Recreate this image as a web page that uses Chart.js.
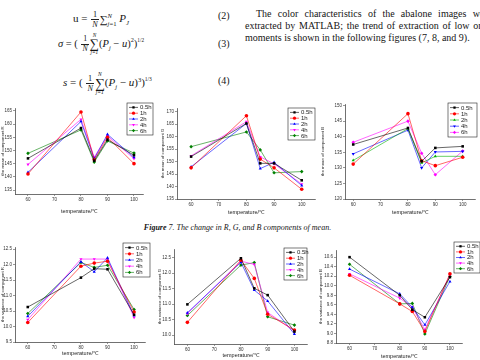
<!DOCTYPE html>
<html>
<head>
<meta charset="utf-8">
<script src="https://cdn.jsdelivr.net/npm/chart.js@4.4.0/dist/chart.umd.min.js"></script>
<style>
html, body { margin: 0; padding: 0; background: #fff; }
body { width: 480px; height: 360px; overflow: hidden; position: relative; font-family: "Liberation Serif", "DejaVu Serif", serif; color: #151515; }
canvas { position: absolute; }
.t { position: absolute; white-space: nowrap; font-size: 10px; }
.eq { position: absolute; white-space: nowrap; font-size: 10px; line-height: 1; }
.frac { display: inline-block; vertical-align: middle; text-align: center; font-size: 0.75em; line-height: 1.1; margin: 0 1px; }
.frac > span { display: block; padding: 0 1px; }
.frac > span:first-child { border-bottom: 0.7px solid #222; }
.big { display: inline-block; vertical-align: middle; text-align: center; line-height: 0.95; }
.big > span { display: block; }
.big .lim { font-size: 0.5em; font-style: italic; }
.big .op { font-size: 1.25em; }
.ss { display: inline-block; vertical-align: middle; line-height: 1.1; font-size: 0.6em; }
.ss > span { display: block; }
sub, sup { font-size: 0.6em; }
</style>
</head>
<body>

<!-- equations -->
<div class="eq" style="left:73px;top:10px;font-size:11px">
  u = <span class="frac"><span>1</span><span><i>N</i></span></span><span style="vertical-align:middle">∑</span><span class="ss"><span><i>N</i></span><span><i>j</i>=1</span></span> <i>P<sub>J</sub></i>
</div>
<div class="t" style="left:218px;top:10px">(2)</div>

<div class="eq" style="left:58px;top:33px;font-size:10.5px">
  <i>σ</i> = ( <span class="frac"><span>1</span><span><i>N</i></span></span><span class="big"><span class="lim">N</span><span class="op">∑</span><span class="lim">j=1</span></span>(<i>P<sub>j</sub></i> − <i>u</i>)<sup>2</sup>)<sup style="font-size:0.5em;vertical-align:0.9em">1/2</sup>
</div>
<div class="t" style="left:218px;top:38px">(3)</div>

<div class="eq" style="left:63px;top:72px;font-size:11px">
  <i>s</i> = ( <span class="frac"><span>1</span><span><i>N</i></span></span><span class="big"><span class="lim">N</span><span class="op">∑</span><span class="lim">j=1</span></span>(<i>P<sub>j</sub></i> − <i>u</i>)<sup>3</sup>)<sup style="font-size:0.5em;vertical-align:1em">1/3</sup>
</div>
<div class="t" style="left:218px;top:75px">(4)</div>

<!-- paragraph -->
<div class="t" style="left:256px;top:8px;word-spacing:3.7px">The color characteristics of the abalone images were</div>
<div class="t" style="left:245px;top:20px;word-spacing:1.2px">extracted by MATLAB; the trend of extraction of low order</div>
<div class="t" style="left:245px;top:32px">moments is shown in the following figures (7, 8, and 9).</div>

<!-- caption -->
<div class="t" style="left:0;width:475px;top:223px;text-align:center;font-size:8px;font-style:italic"><b>Figure</b> 7. The change in R, G, and B components of mean.</div>

<script>
// ---- data ----
const temperatures = [60, 80, 85, 90, 100];
const seriesLabels = ['0.5h', '1h', '2h', '4h', '6h'];
const xTickValues = [60, 70, 80, 90, 100];

// mean of R, G, B (rows: 0.5h, 1h, 2h, 4h, 6h)
const meanR = [
    [147.0, 158.5, 146.1, 154.1, 148.2],
    [141.1, 164.6, 146.5, 155.0, 145.0],
    [141.7, 161.0, 146.9, 156.1, 147.4],
    [144.7, 161.8, 147.5, 155.5, 146.9],
    [148.9, 157.8, 145.6, 153.6, 149.0]
];
const meanG = [
    [152.0, 165.3, 149.3, 149.3, 142.5],
    [147.5, 168.4, 151.0, 147.5, 138.9],
    [147.9, 165.3, 147.2, 149.7, 140.4],
    [152.3, 166.0, 151.9, 149.1, 141.0],
    [156.0, 161.9, 154.7, 145.5, 146.0]
];
const meanB = [
    [137.5, 142.8, 132.1, 136.4, 136.9],
    [131.2, 147.4, 132.3, 130.7, 133.4],
    [132.4, 142.6, 131.6, 133.7, 133.7],
    [134.5, 142.1, 130.0, 135.1, 135.3],
    [138.2, 145.0, 134.7, 127.8, 135.4]
];

// variance of R, G, B
const varR = [
    [10.63, 11.58, 11.87, 11.85, 10.38],
    [10.13, 11.95, 12.05, 12.11, 10.47],
    [10.33, 12.09, 11.77, 12.22, 10.35],
    [10.22, 12.18, 12.18, 12.18, 10.29],
    [10.42, 12.07, 11.91, 11.98, 10.55]
];
const varG = [
    [10.99, 12.48, 11.51, 11.29, 10.11],
    [10.41, 12.42, 11.83, 10.67, 10.16],
    [10.72, 12.35, 11.45, 11.10, 10.03],
    [10.69, 12.39, 12.28, 10.73, 10.13],
    [10.63, 12.26, 12.34, 10.59, 10.32]
];
const varB = [
    [10.60, 9.80, 9.50, 9.34, 10.18],
    [10.22, 9.62, 9.46, 9.04, 10.25],
    [10.35, 9.83, 9.55, 9.18, 10.09],
    [10.25, 9.74, 9.55, 9.08, 10.23],
    [10.45, 9.62, 9.63, 8.99, 10.20]
];

// tick labels
const meanRTicks = [135, 140, 145, 150, 155, 160, 165];
const meanGTicks = [135, 140, 145, 150, 155, 160, 165, 170];
const meanBTicks = [120, 125, 130, 135, 140, 145, 150];
const varRTicks = [9.5, 10.0, 10.5, 11.0, 11.5, 12.0, 12.5];
const varGTicks = [10.0, 10.5, 11.0, 11.5, 12.0, 12.5];
const varBTicks = [8.8, 9.0, 9.2, 9.4, 9.6, 9.8, 10.0, 10.2, 10.4, 10.6];

// marker styles (Origin default order)
const colorsA = ['#000000', '#ff0000', '#0000ff', '#ff00ff', '#008000'];
const colorsB = ['#000000', '#ff0000', '#00b000', '#0000ff', '#ff00ff'];
const pointStyles = ['rect', 'circle', 'triangle', 'triangle', 'rectRot'];
const pointRotations = [0, 0, 0, 180, 0];

const FONT = '"Liberation Sans", Arial, sans-serif';
Chart.defaults.font.family = FONT;

// legend drawn as a boxed Origin-style key
const boxLegend = {
    id: 'boxLegend',
    afterDraw(chart, args, opts) {
        const ctx = chart.ctx;
        const { x, y, w, h } = opts;
        ctx.save();
        ctx.strokeStyle = '#222';
        ctx.lineWidth = 0.6;
        ctx.strokeRect(x, y, w, h);
        const n = chart.data.datasets.length;
        const rowH = (h - 3) / n;
        chart.data.datasets.forEach((ds, i) => {
            const cy = y + 1.5 + rowH * (i + 0.5);
            ctx.strokeStyle = ds.borderColor;
            ctx.lineWidth = 0.6;
            ctx.beginPath();
            ctx.moveTo(x + 2, cy);
            ctx.lineTo(x + 11, cy);
            ctx.stroke();
            ctx.fillStyle = ds.pointBackgroundColor;
            if (Chart.helpers && Chart.helpers.drawPoint) {
                Chart.helpers.drawPoint(ctx, { pointStyle: ds.pointStyle, rotation: ds.pointRotation || 0, radius: 1.6, borderWidth: 0 }, x + 6.5, cy);
            } else {
                ctx.fillRect(x + 5, cy - 1.5, 3, 3);
            }
            ctx.fillStyle = '#222';
            ctx.font = '6px ' + FONT;
            ctx.textBaseline = 'middle';
            ctx.fillText(ds.label, x + 13, cy + 0.3);
        });
        ctx.restore();
    }
};

const chartSpecs = [
    { data: meanR, yTicks: meanRTicks, dec: 0, yTitle: 'the mean of component R', colors: colorsA,
      left: 0, top: 100, width: 160, height: 115, yW: 15, padR: 17, padT: 8, xH: 21,
      xMin: 55.1, xMax: 103.4, yMin: 133.5, yMax: 166.1, legend: { x: 127, y: 103, w: 26, h: 32 } },
    { data: meanG, yTicks: meanGTicks, dec: 0, yTitle: 'the mean of component G', colors: colorsA,
      left: 160, top: 100, width: 160, height: 116, yW: 17, padR: 5, padT: 8, xH: 17,
      xMin: 54.9, xMax: 104.8, yMin: 135, yMax: 171.5, legend: { x: 288, y: 108, w: 27, h: 32 } },
    { data: meanB, yTicks: meanBTicks, dec: 0, yTitle: 'the mean of component B', colors: colorsB,
      left: 320, top: 98, width: 160, height: 118, yW: 25, padR: 5, padT: 6, xH: 17,
      xMin: 57, xMax: 104.5, yMin: 120, yMax: 150.5, legend: { x: 448, y: 103, w: 29, h: 34 } },
    { data: varR, yTicks: varRTicks, dec: 1, yTitle: 'the variance of component R', colors: colorsA,
      left: 0, top: 238, width: 160, height: 119, yW: 15, padR: 15, padT: 9, xH: 15,
      xMin: 55.2, xMax: 104.1, yMin: 9.5, yMax: 12.57, legend: { x: 123, y: 243, w: 27, h: 34 } },
    { data: varG, yTicks: varGTicks, dec: 1, yTitle: 'the variance of component G', colors: colorsA,
      left: 157, top: 240, width: 163, height: 119, yW: 17, padR: 13, padT: 9, xH: 15,
      xMin: 55, xMax: 104.7, yMin: 9.71, yMax: 12.78, legend: { x: 284, y: 248, w: 23, h: 32 } },
    { data: varB, yTicks: varBTicks, dec: 1, yTitle: 'the variance of component B', colors: colorsA,
      left: 318, top: 238, width: 162, height: 122, yW: 18, padR: 18, padT: 12, xH: 17,
      xMin: 54.6, xMax: 104.8, yMin: 8.8, yMax: 10.75, legend: { x: 454, y: 242, w: 26, h: 31 } }
];

function buildChart(spec) {
    const canvas = document.createElement('canvas');
    canvas.width = spec.width;
    canvas.height = spec.height;
    canvas.style.left = spec.left + 'px';
    canvas.style.top = spec.top + 'px';
    document.body.appendChild(canvas);

    const datasets = spec.data.map((vals, i) => ({
        label: seriesLabels[i],
        data: temperatures.map((t, k) => ({ x: t, y: vals[k] })),
        borderColor: spec.colors[i],
        backgroundColor: spec.colors[i],
        pointBackgroundColor: spec.colors[i],
        borderWidth: 0.6,
        pointStyle: pointStyles[i],
        pointRotation: pointRotations[i],
        pointRadius: 1.8,
        pointBorderWidth: 0,
        tension: 0
    }));

    const axisGrid = { drawOnChartArea: false, drawTicks: true, tickLength: 2, color: '#333', lineWidth: 0.5 };
    const axisBorder = { display: true, color: '#333', width: 0.7 };

    return new Chart(canvas, {
        type: 'line',
        data: { datasets },
        options: {
            responsive: false,
            animation: false,
            layout: { padding: { left: 0, top: spec.padT, right: spec.padR, bottom: 0 } },
            plugins: {
                legend: { display: false },
                tooltip: { enabled: false },
                boxLegend: {
                    x: spec.legend.x - spec.left, y: spec.legend.y - spec.top,
                    w: spec.legend.w, h: spec.legend.h
                }
            },
            scales: {
                x: {
                    type: 'linear', min: spec.xMin, max: spec.xMax,
                    afterBuildTicks: s => { s.ticks = xTickValues.map(v => ({ value: v })); },
                    afterFit: s => { s.height = spec.xH; },
                    ticks: { font: { size: 4.5 }, color: '#333', padding: 1.5, maxRotation: 0, autoSkip: false },
                    grid: axisGrid,
                    border: axisBorder,
                    title: { display: true, text: 'temperature/℃', font: { size: 5.5 }, color: '#222', padding: 0 }
                },
                y: {
                    type: 'linear', min: spec.yMin, max: spec.yMax,
                    afterBuildTicks: s => { s.ticks = spec.yTicks.map(v => ({ value: v })); },
                    afterFit: s => { s.width = spec.yW; },
                    ticks: { font: { size: 4.5 }, color: '#333', padding: 1, autoSkip: false,
                             callback: v => Number(v).toFixed(spec.dec) },
                    grid: axisGrid,
                    border: axisBorder,
                    title: { display: true, text: spec.yTitle, font: { size: 4.3 }, color: '#222', padding: 0 }
                }
            }
        },
        plugins: [boxLegend]
    });
}

chartSpecs.forEach(buildChart);
</script>
</body>
</html>
